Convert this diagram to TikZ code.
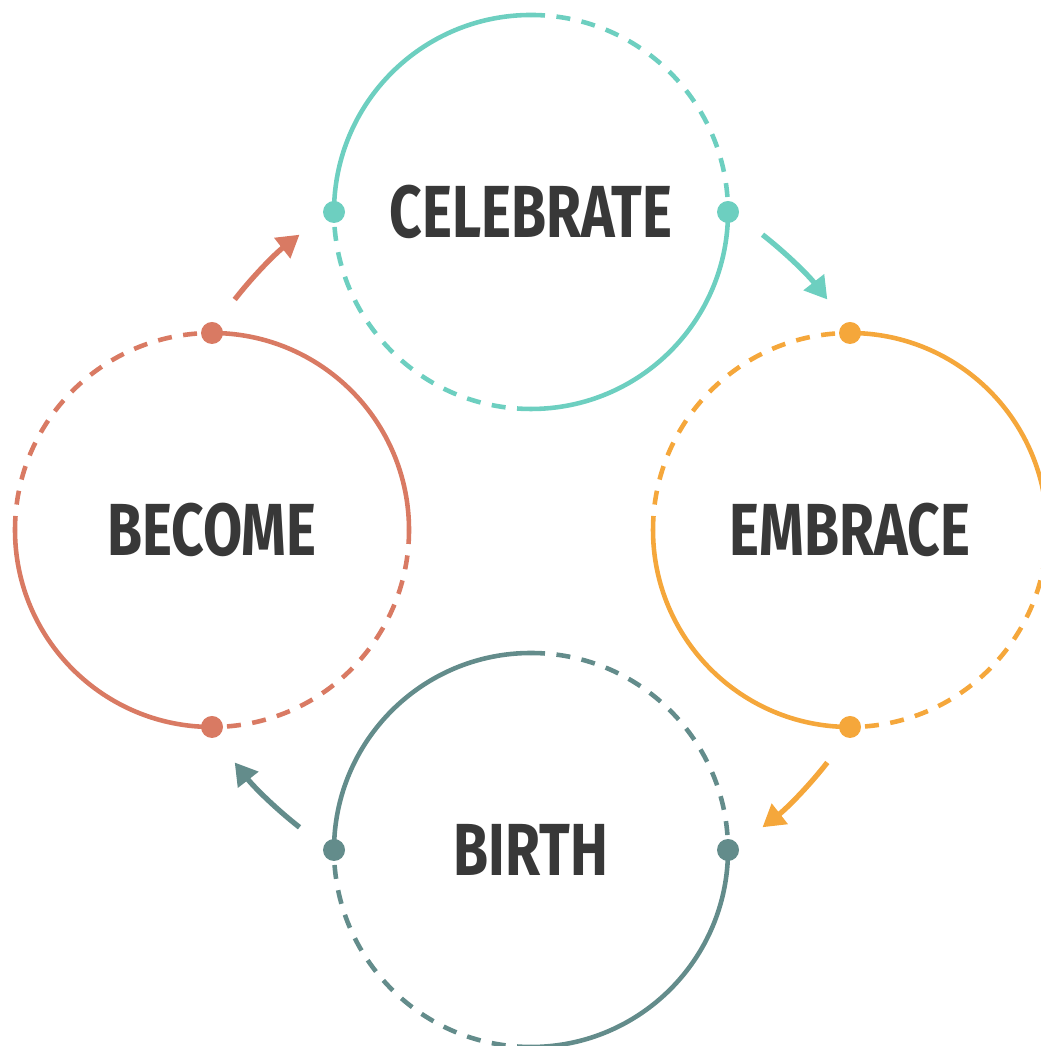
\documentclass[tikz,border=0pt]{standalone}
\usepackage{fontspec}
\setsansfont[FakeStretch=0.77]{Fira Sans}
\usetikzlibrary{arrows.meta}
\definecolor{celebcol}{HTML}{6DCFC0}
\definecolor{embcol}{HTML}{F5A73B}
\definecolor{birthcol}{HTML}{638C8B}
\definecolor{becol}{HTML}{D97A63}
\definecolor{wordcol}{HTML}{383838}
\tikzset{
  word/.style={font=\sffamily\bfseries\fontsize{21}{21}\selectfont,text=wordcol,inner sep=0pt},
  ring/.style={line width=1.3pt},
  dashring/.style={ring,dash pattern=on 0.14cm off 0.115cm},
  turn/.style={line width=1.5pt,-{Triangle[length=0.22cm,width=0.25cm]}}
}

\begin{document}
\begin{tikzpicture}
\useasboundingbox (0,0) rectangle (10.40,10.46);
\coordinate (hub) at (5.31,5.15);
\node[word] (celebrate) at (5.31,8.34) {CELEBRATE};
\node[word] (embrace) at (8.50,5.16) {EMBRACE};
\node[word] (birth) at (5.31,1.96) {BIRTH};
\node[word] (become) at (2.12,5.16) {BECOME};
% celebrate
\draw[ring,celebcol] ([shift={(180:1.97)}]celebrate.center) arc[start angle=180,end angle=90,radius=1.97];
\draw[dashring,celebcol] ([shift={(90:1.97)}]celebrate.center) arc[start angle=90,end angle=0,radius=1.97];
\draw[ring,celebcol] ([shift={(0:1.97)}]celebrate.center) arc[start angle=0,end angle=-90,radius=1.97];
\draw[dashring,celebcol] ([shift={(-90:1.97)}]celebrate.center) arc[start angle=-90,end angle=-180,radius=1.97];
\fill[celebcol] ([shift={(0:1.97)}]celebrate.center) circle (0.11) ([shift={(180:1.97)}]celebrate.center) circle (0.11);
% embrace
\draw[ring,embcol] ([shift={(90:1.97)}]embrace.center) arc[start angle=90,end angle=0,radius=1.97];
\draw[dashring,embcol] ([shift={(0:1.97)}]embrace.center) arc[start angle=0,end angle=-90,radius=1.97];
\draw[ring,embcol] ([shift={(-90:1.97)}]embrace.center) arc[start angle=-90,end angle=-180,radius=1.97];
\draw[dashring,embcol] ([shift={(180:1.97)}]embrace.center) arc[start angle=180,end angle=90,radius=1.97];
\fill[embcol] ([shift={(90:1.97)}]embrace.center) circle (0.11) ([shift={(-90:1.97)}]embrace.center) circle (0.11);
% birth
\draw[ring,birthcol] ([shift={(180:1.97)}]birth.center) arc[start angle=180,end angle=90,radius=1.97];
\draw[dashring,birthcol] ([shift={(90:1.97)}]birth.center) arc[start angle=90,end angle=0,radius=1.97];
\draw[ring,birthcol] ([shift={(0:1.97)}]birth.center) arc[start angle=0,end angle=-90,radius=1.97];
\draw[dashring,birthcol] ([shift={(-90:1.97)}]birth.center) arc[start angle=-90,end angle=-180,radius=1.97];
\fill[birthcol] ([shift={(0:1.97)}]birth.center) circle (0.11) ([shift={(180:1.97)}]birth.center) circle (0.11);
% become
\draw[ring,becol] ([shift={(90:1.97)}]become.center) arc[start angle=90,end angle=0,radius=1.97];
\draw[dashring,becol] ([shift={(0:1.97)}]become.center) arc[start angle=0,end angle=-90,radius=1.97];
\draw[ring,becol] ([shift={(-90:1.97)}]become.center) arc[start angle=-90,end angle=-180,radius=1.97];
\draw[dashring,becol] ([shift={(180:1.97)}]become.center) arc[start angle=180,end angle=90,radius=1.97];
\fill[becol] ([shift={(90:1.97)}]become.center) circle (0.11) ([shift={(-90:1.97)}]become.center) circle (0.11);
% turning arrows
\draw[turn,becol] ([shift={(142:3.76)}]hub) arc[start angle=142,end angle=128,radius=3.76];
\draw[turn,celebcol] ([shift={(52:3.76)}]hub) arc[start angle=52,end angle=38,radius=3.76];
\draw[turn,embcol] ([shift={(-38:3.76)}]hub) arc[start angle=-38,end angle=-52,radius=3.76];
\draw[turn,birthcol] ([shift={(-128:3.76)}]hub) arc[start angle=-128,end angle=-142,radius=3.76];
\end{tikzpicture}
\end{document}
